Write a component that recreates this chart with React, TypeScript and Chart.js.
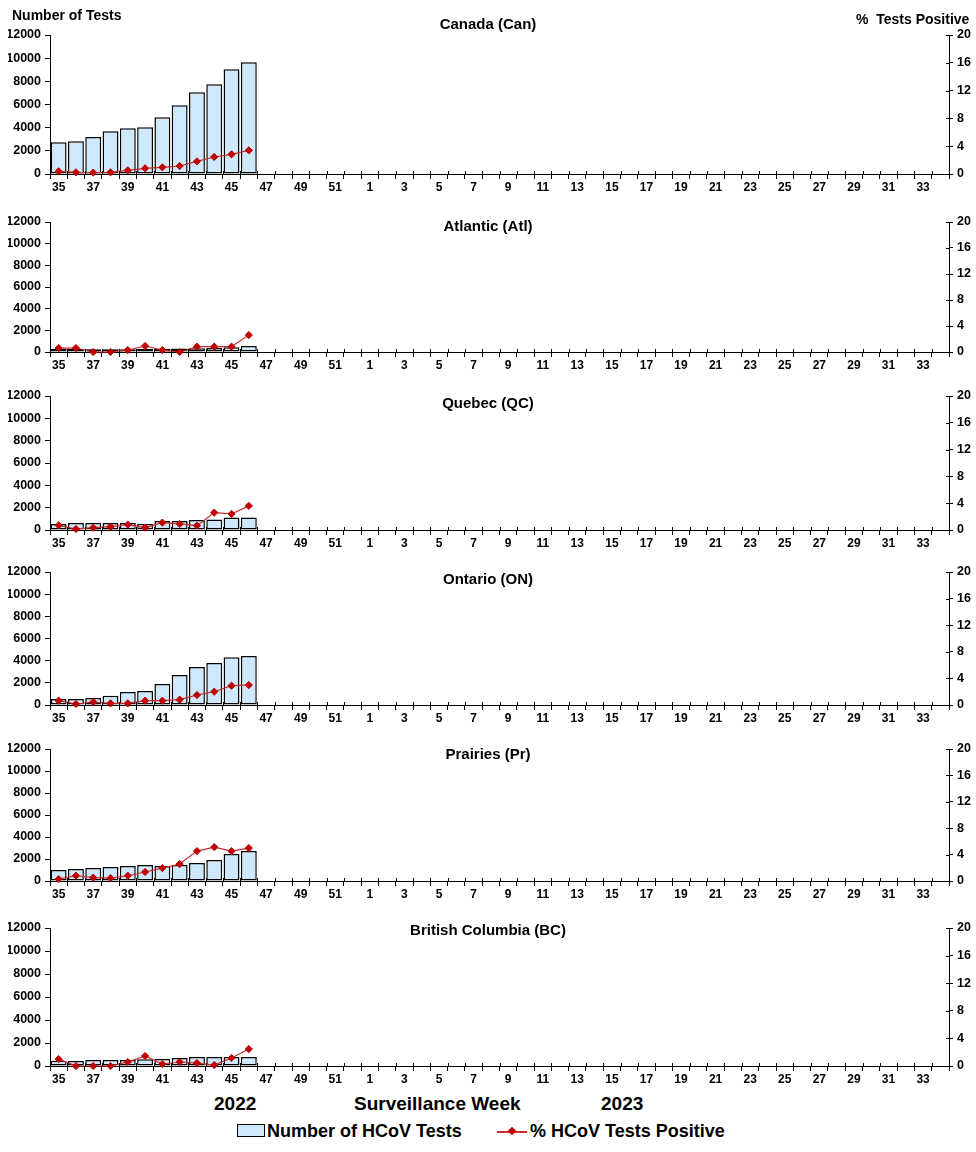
import React, { useEffect, useRef } from "react";
import { Chart, registerables } from "chart.js";

Chart.register(...registerables);

const FONT = "'Liberation Sans', Arial, sans-serif";

const weeks = [
  "35", "36", "37", "38", "39", "40", "41", "42", "43", "44", "45", "46", "47", "48", "49", "50", "51", "52",
  "1", "2", "3", "4", "5", "6", "7", "8", "9", "10", "11", "12", "13", "14", "15", "16", "17", "18", "19", "20",
  "21", "22", "23", "24", "25", "26", "27", "28", "29", "30", "31", "32", "33", "34",
];

const testTicks = [0, 2000, 4000, 6000, 8000, 10000, 12000];
const pctTicks = [0, 4, 8, 12, 16, 20];

const canadaTests = [2750, 2820, 3190, 3680, 3940, 4030, 4890, 5930, 7050, 7740, 9040, 9640];
const canadaPct = [0.38, 0.24, 0.2, 0.24, 0.53, 0.82, 0.96, 1.15, 1.82, 2.45, 2.83, 3.4];

const atlanticTests = [270, 280, 250, 250, 260, 280, 300, 330, 350, 360, 450, 550];
const atlanticPct = [0.61, 0.61, 0, 0, 0.3, 0.92, 0.3, 0, 0.82, 0.82, 0.82, 2.6];

const quebecTests = [540, 630, 630, 630, 630, 540, 810, 810, 900, 930, 1110, 1110];
const quebecPct = [0.7, 0.15, 0.35, 0.5, 0.8, 0.35, 1.1, 0.9, 0.65, 2.6, 2.4, 3.6];

const ontarioTests = [540, 540, 630, 840, 1170, 1260, 1890, 2710, 3430, 3790, 4300, 4420];
const ontarioPct = [0.65, 0.15, 0.45, 0.25, 0.25, 0.65, 0.65, 0.8, 1.5, 2.0, 2.9, 3.0];

const prairiesTests = [1000, 1090, 1180, 1270, 1360, 1450, 1360, 1450, 1630, 1900, 2450, 2720];
const prairiesPct = [0.3, 0.8, 0.5, 0.45, 0.8, 1.36, 1.96, 2.57, 4.53, 5.14, 4.53, 4.99];

const bcTests = [460, 430, 520, 520, 520, 580, 610, 700, 780, 780, 780, 780];
const bcPct = [1.0, 0, 0, 0, 0.58, 1.45, 0.29, 0.58, 0.43, 0.14, 1.16, 2.46];

const panelTitles = ["Canada (Can)", "Atlantic (Atl)", "Quebec (QC)", "Ontario (ON)", "Prairies (Pr)", "British Columbia (BC)"];
const panelTests = [canadaTests, atlanticTests, quebecTests, ontarioTests, prairiesTests, bcTests];
const panelPct = [canadaPct, atlanticPct, quebecPct, ontarioPct, prairiesPct, bcPct];

// layout (pixels): plot top, plot bottom, title centre y
const panelPlotTop = [35, 222, 396, 572, 749, 928];
const panelPlotBottom = [174, 352, 530, 705, 881, 1066];
const panelTitleY = [25, 227, 404, 580, 755, 931];

const W = 976;
const PAD_TOP = 30;
const X_H = 24;
const LEFT_W = 42;
const RIGHT_W = 27;
const BAR_FILL = "#cde9fb";
const RED = "#c00000";
const LINE_RED = "#cc2a2a";

function Panel({ idx }: { idx: number }) {
  const ref = useRef<HTMLCanvasElement | null>(null);
  const top = panelPlotTop[idx] - PAD_TOP;
  const h = panelPlotBottom[idx] - panelPlotTop[idx] + PAD_TOP + X_H;

  useEffect(() => {
    if (!ref.current) return;
    const titleY = panelTitleY[idx] - top;
    const titlePlugin = {
      id: "panelTitle",
      afterDraw(chart: any) {
        const ctx = chart.ctx;
        ctx.save();
        ctx.fillStyle = "#000";
        ctx.font = `bold 15px ${FONT}`;
        ctx.textAlign = "center";
        ctx.textBaseline = "middle";
        ctx.fillText(panelTitles[idx], W / 2, titleY);
        // small tick marks above x axis (cross style)
        const xs = chart.scales.x;
        const ca = chart.chartArea;
        const n = weeks.length;
        const step = (ca.right - ca.left) / n;
        ctx.strokeStyle = "#000";
        ctx.lineWidth = 1;
        ctx.beginPath();
        for (let i = 0; i <= n; i++) {
          const x = Math.round(xs.left + i * step) + 0.5;
          ctx.moveTo(x, ca.bottom - 3);
          ctx.lineTo(x, ca.bottom);
        }
        const yr = chart.scales.y1;
        for (const t of pctTicks) {
          const y = Math.round(yr.getPixelForValue(t)) + 0.5;
          ctx.moveTo(ca.right - 3, y);
          ctx.lineTo(ca.right, y);
        }
        ctx.stroke();
        ctx.restore();
      },
    };

    const tickFont = { family: FONT, size: 12.5, weight: "bold" as const };
    const chart = new Chart(ref.current, {
      type: "bar",
      data: {
        labels: weeks,
        datasets: [
          {
            type: "line" as const,
            label: "% HCoV Tests Positive",
            data: panelPct[idx],
            yAxisID: "y1",
            borderColor: LINE_RED,
            backgroundColor: RED,
            borderWidth: 1.2,
            pointStyle: "rectRot",
            pointRadius: 3.6,
            pointBackgroundColor: RED,
            pointBorderColor: RED,
            pointBorderWidth: 1,
            tension: 0,
            clip: false as any,
            order: 1,
          },
          {
            type: "bar" as const,
            label: "Number of HCoV Tests",
            data: panelTests[idx],
            yAxisID: "y",
            backgroundColor: BAR_FILL,
            borderColor: "#000",
            borderWidth: 1.5,
            borderSkipped: false as any,
            barPercentage: 0.92,
            categoryPercentage: 1.0,
            order: 2,
          },
        ],
      },
      options: {
        responsive: false,
        animation: false,
        devicePixelRatio: 1,
        layout: { padding: { top: PAD_TOP, left: 8, right: 0, bottom: 0 } },
        plugins: {
          legend: { display: false },
          tooltip: { enabled: false },
          title: { display: false },
        },
        scales: {
          x: {
            type: "category",
            offset: true,
            grid: { offset: true, drawOnChartArea: false, drawTicks: true, tickLength: 5, color: "#000", lineWidth: 1 },
            border: { display: true, color: "#000", width: 1 },
            ticks: {
              autoSkip: false,
              maxRotation: 0,
              minRotation: 0,
              padding: 1,
              color: "#000",
              font: { family: FONT, size: 12, weight: "bold" },
              callback: (_v: any, i: number) => (i % 2 === 0 ? weeks[i] : ""),
            },
            afterFit: (s: any) => {
              s.height = X_H;
            },
          },
          y: {
            position: "left",
            min: 0,
            max: 12000,
            afterBuildTicks: (s: any) => {
              s.ticks = testTicks.map((v) => ({ value: v }));
            },
            grid: { drawOnChartArea: false, drawTicks: true, tickLength: 5, color: "#000" },
            border: { display: true, color: "#000", width: 1 },
            ticks: { color: "#000", padding: 4, font: tickFont, callback: (v: any) => String(v) },
            afterFit: (s: any) => {
              s.width = LEFT_W;
            },
          },
          y1: {
            position: "right",
            min: 0,
            max: 20,
            afterBuildTicks: (s: any) => {
              s.ticks = pctTicks.map((v) => ({ value: v }));
            },
            grid: { drawOnChartArea: false, drawTicks: true, tickLength: 4, color: "#000" },
            border: { display: true, color: "#000", width: 1 },
            ticks: { color: "#000", padding: 4, font: tickFont, callback: (v: any) => String(v) },
            afterFit: (s: any) => {
              s.width = RIGHT_W;
            },
          },
        },
      } as any,
      plugins: [titlePlugin],
    });
    return () => chart.destroy();
  }, [idx]);

  return (
    <canvas
      ref={ref}
      width={W}
      height={h}
      style={{ position: "absolute", left: 0, top, width: W, height: h }}
    />
  );
}

const textStyle: React.CSSProperties = {
  position: "absolute",
  fontFamily: FONT,
  fontWeight: "bold",
  color: "#000",
  whiteSpace: "nowrap",
  lineHeight: 1,
};

export default function App() {
  return (
    <div style={{ position: "absolute", left: 0, top: 0, width: W, height: 1152, background: "#fff" }}>
      {panelTitles.map((_, i) => (
        <Panel key={i} idx={i} />
      ))}
      <div style={{ ...textStyle, left: 12, top: 8, fontSize: 14 }}>Number of Tests</div>
      <div style={{ ...textStyle, left: 856, top: 12, fontSize: 14 }}>%&nbsp; Tests Positive</div>

      <div style={{ ...textStyle, left: 214, top: 1094, fontSize: 19 }}>2022</div>
      <div style={{ ...textStyle, left: 354, top: 1094, fontSize: 19 }}>Surveillance Week</div>
      <div style={{ ...textStyle, left: 601, top: 1094, fontSize: 19 }}>2023</div>

      <div
        style={{
          position: "absolute",
          left: 237,
          top: 1124,
          width: 28,
          height: 13,
          background: BAR_FILL,
          border: "1px solid #000",
          boxSizing: "border-box",
        }}
      />
      <div style={{ ...textStyle, left: 267, top: 1122, fontSize: 18 }}>Number of HCoV Tests</div>
      <div style={{ position: "absolute", left: 497, top: 1131, width: 30, height: 1.5, background: LINE_RED }} />
      <div
        style={{
          position: "absolute",
          left: 509,
          top: 1128,
          width: 6,
          height: 6,
          background: RED,
          transform: "rotate(45deg)",
        }}
      />
      <div style={{ ...textStyle, left: 530, top: 1122, fontSize: 18 }}>% HCoV Tests Positive</div>
    </div>
  );
}
